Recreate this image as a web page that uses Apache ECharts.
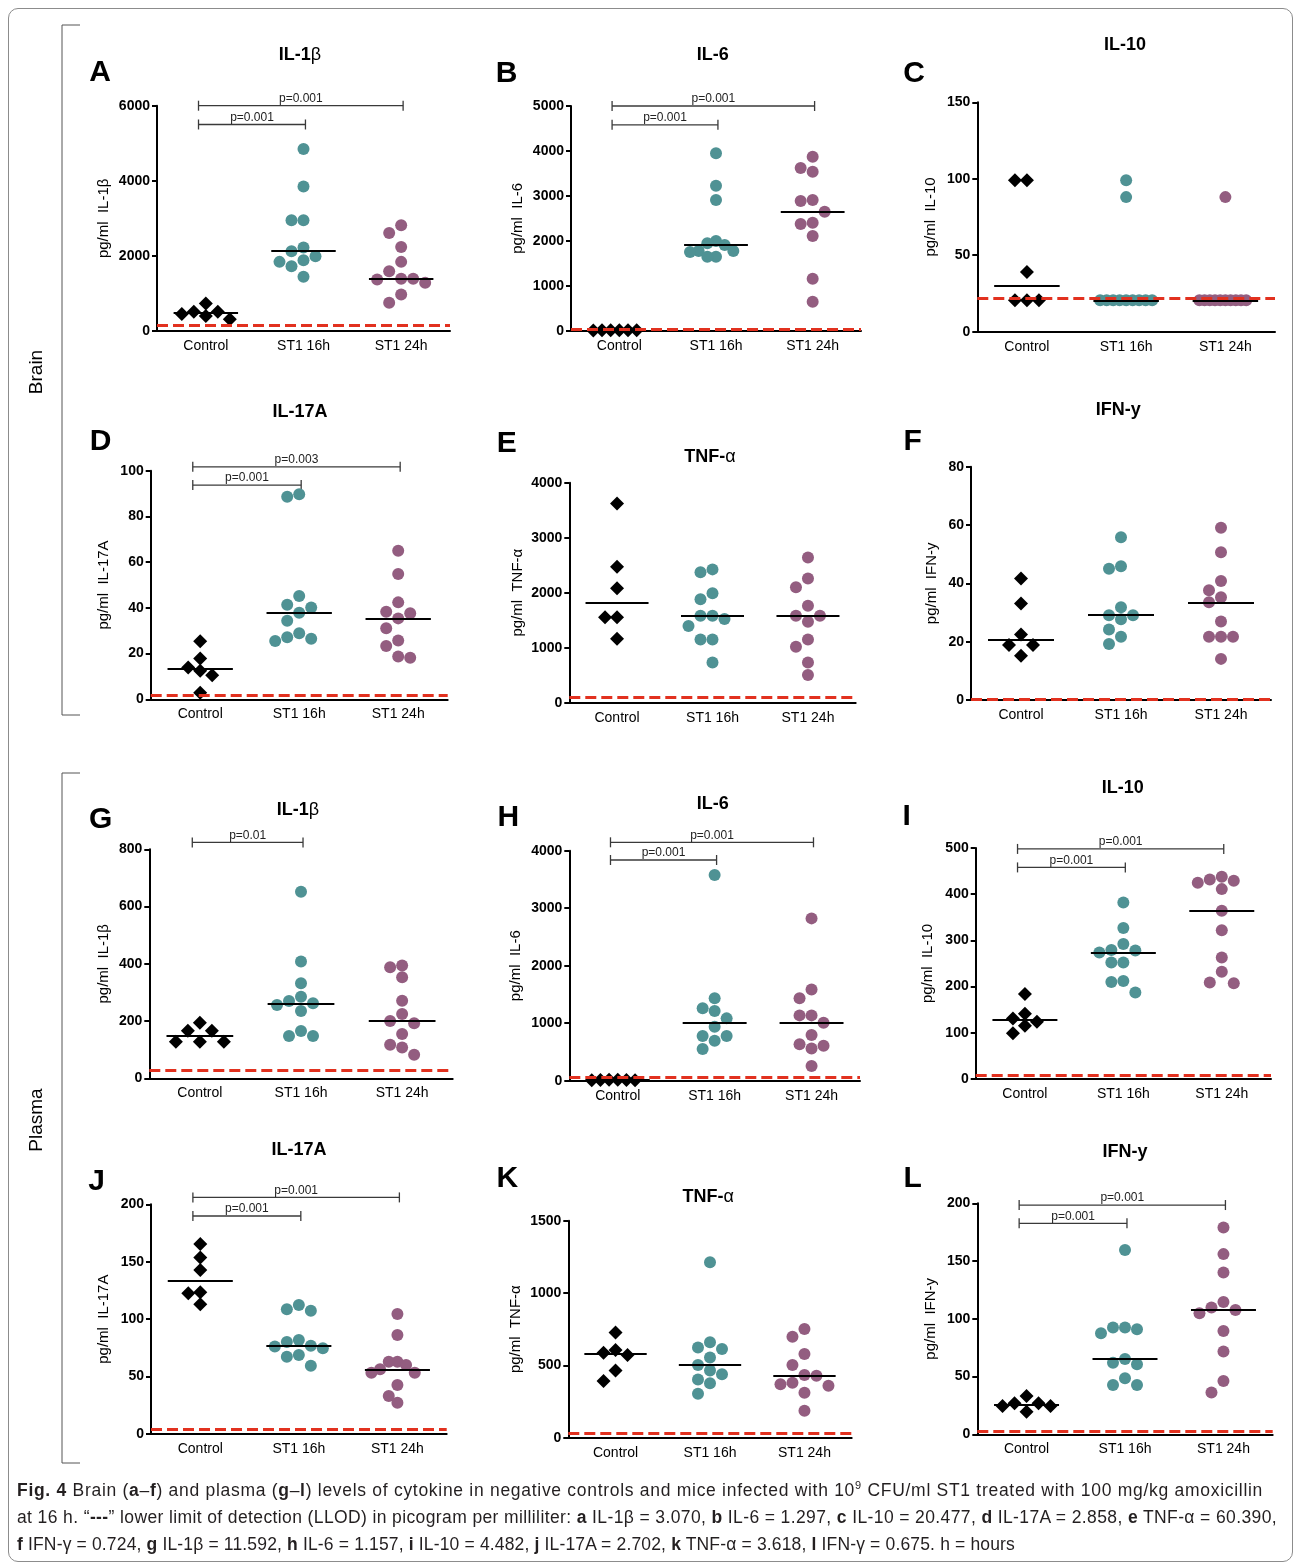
<!DOCTYPE html>
<html>
<head>
<meta charset="utf-8">
<script src="https://cdn.jsdelivr.net/npm/echarts@6/dist/echarts.min.js"></script>
<style>
  body { margin: 0; background: #fff; }
  #wrap { position: relative; width: 1295px; height: 1565px; }
  #frame { position: absolute; left: 8px; top: 8px; width: 1285px; height: 1554px; border: 1px solid #8c8c8c; border-radius: 10px; box-sizing: border-box; }
  #chart { position: absolute; left: 0; top: 0; width: 1295px; height: 1565px; }
  #caption { position: absolute; left: 17px; top: 1477px; font-family: 'Liberation Sans', Arial, sans-serif; font-size: 17.5px; line-height: 27px; color: #231f20; white-space: nowrap; }
  #caption .ln { display: inline-block; }
  #caption sup { font-size: 11px; line-height: 0; }
</style>
</head>
<body>
<div id="wrap">
  <div id="frame"></div>
  <div id="chart"></div>
  <div id="caption"><span class="ln"><b>Fig. 4</b> Brain (<b>a</b>–<b>f</b>) and plasma (<b>g</b>–<b>l</b>) levels of cytokine in negative controls and mice infected with 10<sup>9</sup> CFU/ml ST1 treated with 100 mg/kg amoxicillin</span><br><span class="ln">at 16 h. “<b>---</b>” lower limit of detection (LLOD) in picogram per milliliter: <b>a</b> IL-1β = 3.070, <b>b</b> IL-6 = 1.297, <b>c</b> IL-10 = 20.477, <b>d</b> IL-17A = 2.858, <b>e</b> TNF-α = 60.390,</span><br><span class="ln"><b>f</b> IFN-γ = 0.724, <b>g</b> IL-1β = 11.592, <b>h</b> IL-6 = 1.157, <b>i</b> IL-10 = 4.482, <b>j</b> IL-17A = 2.702, <b>k</b> TNF-α = 3.618, <b>l</b> IFN-γ = 0.675. h = hours</span></div>
</div>
<script>
const groups = ['Control', 'ST1 16h', 'ST1 24h']
const letters = ['A', 'B', 'C', 'D', 'E', 'F', 'G', 'H', 'I', 'J', 'K', 'L']
const cytokines = ['IL-1β', 'IL-6', 'IL-10', 'IL-17A', 'TNF-α', 'IFN-y', 'IL-1β', 'IL-6', 'IL-10', 'IL-17A', 'TNF-α', 'IFN-y']
const yMax = [6000, 5000, 150, 100, 4000, 80, 800, 4000, 500, 200, 1500, 200]
const yStep = [2000, 1000, 50, 20, 1000, 20, 200, 1000, 100, 50, 500, 50]
// LLOD dashed lines, as drawn in the figure
const llod = [150, 25, 22, 1.8, 100, 0.4, 29, 55, 8.7, 4.1, 30, 2.3]

// brain
const valuesA = [
  [735, 513, 513, 451, 398, 310],
  [4850, 3850, 2947, 2947, 2221, 2124, 1991, 1885, 1841, 1726, 1443],
  [2814, 2611, 2239, 1841, 1593, 1389, 1389, 1372, 1283, 974, 752]
]
const valuesB = [
  [12, 10, 8, 6, 10, 12],
  [3946, 3227, 2908, 1995, 1944, 1906, 1773, 1773, 1751, 1647, 1647],
  [3872, 3620, 3538, 2908, 2886, 2648, 2403, 2374, 2107, 1157, 645]
]
const valuesC = [
  [99, 99, 39, 20.5, 20.5, 20.5],
  [99, 88, 20.5, 20.5, 20.5, 20.5, 20.5, 20.5, 20.5, 20.5, 20.5],
  [88, 20.5, 20.5, 20.5, 20.5, 20.5, 20.5, 20.5, 20.5, 20.5, 20.5]
]
const valuesD = [
  [25.4, 17.9, 13.9, 12.5, 10.5, 2.9],
  [89.7, 88.6, 45.2, 41.4, 40.2, 37.9, 34.4, 28.9, 27.1, 26.5, 25.5],
  [65, 54.8, 42.4, 38.3, 37.6, 35.4, 31.1, 25.7, 23.3, 18.7, 18.2]
]
const valuesE = [
  [3624, 2473, 2079, 1552, 1552, 1164],
  [2424, 2370, 1988, 1879, 1582, 1582, 1521, 1394, 1151, 1151, 733],
  [2642, 2260, 2097, 1764, 1582, 1582, 1473, 1151, 1018, 733, 503]
]
const valuesF = [
  [41.7, 33.1, 22.5, 18.9, 18.9, 15.2],
  [55.8, 45.9, 45.0, 31.8, 29.1, 29.1, 27.7, 24.2, 21.7, 19.2],
  [59.1, 50.7, 40.8, 37.6, 35.2, 33.5, 26.9, 21.7, 21.7, 21.7, 14.1]
]
// plasma
const valuesG = [
  [194, 166, 166, 128, 128, 128],
  [652, 408, 332, 285, 270, 262, 256, 235, 165, 148, 148],
  [394, 388, 353, 271, 225, 200, 192, 155, 117, 108, 82]
]
const valuesH = [
  [15, 12, 10, 8, 12, 15],
  [3577, 1432, 1258, 1212, 1084, 939, 777, 777, 696, 551],
  [2823, 1588, 1432, 1136, 1136, 1009, 794, 632, 609, 562, 255]
]
const valuesI = [
  [184, 141, 131, 124, 115, 99],
  [382, 327, 292, 279, 278, 274, 252, 252, 212, 210, 187],
  [438, 432, 429, 425, 411, 364, 322, 263, 232, 209, 207]
]
const valuesJ = [
  [165.5, 153.6, 142.8, 123.4, 122.5, 112.9],
  [112.3, 108.6, 107.4, 81.9, 80.1, 76.9, 76.1, 74.6, 68.8, 67.3, 59.5],
  [104.5, 86.2, 63, 63, 60.1, 56.3, 53.4, 53.4, 42.7, 33.1, 27.3]
]
const valuesK = [
  [728, 606, 588, 571, 465, 392],
  [1212, 659, 624, 613, 555, 502, 465, 438, 403, 376, 304],
  [751, 698, 578, 502, 433, 429, 380, 369, 359, 311, 187]
]
const valuesL = [
  [33.2, 26.8, 26.8, 24.5, 24.5, 19.6],
  [159.6, 92.4, 92.4, 90.9, 87.4, 65.2, 62, 60.6, 48.5, 42.7, 42.7],
  [179, 156, 140, 114.5, 109.7, 107.6, 104.8, 89.5, 71.6, 46.2, 36.1]
]
const allValues = [valuesA, valuesB, valuesC, valuesD, valuesE, valuesF, valuesG, valuesH, valuesI, valuesJ, valuesK, valuesL]

// significance brackets: panel, from group, to group, height (data units), text
const brackets = [
  [0, 0, 2, 6000, 'p=0.001'], [0, 0, 1, 5500, 'p=0.001'],
  [1, 0, 2, 5000, 'p=0.001'], [1, 0, 1, 4580, 'p=0.001'],
  [3, 0, 2, 101.7, 'p=0.003'], [3, 0, 1, 93.7, 'p=0.001'],
  [6, 0, 1, 824, 'p=0.01'],
  [7, 0, 2, 4146, 'p=0.001'], [7, 0, 1, 3838, 'p=0.001'],
  [8, 0, 2, 498, 'p=0.001'], [8, 0, 1, 458, 'p=0.001'],
  [9, 0, 2, 206, 'p=0.001'], [9, 0, 1, 189.8, 'p=0.001'],
  [11, 0, 2, 198.5, 'p=0.001'], [11, 0, 1, 182.7, 'p=0.001']
]

// layout: plot box [left, top, right, bottom], title / letter centres, y name gap
const boxes = [
  [157, 105.7, 450, 331], [571, 106, 861, 330.7], [977.3, 102.3, 1275, 331.7],
  [150.7, 470.7, 447.7, 699.3], [569.3, 482.7, 855.7, 702.7], [971, 466.7, 1271, 700],
  [149.3, 849.3, 452.7, 1078.3], [569.3, 850.7, 860, 1080.7], [975.7, 848, 1271, 1079],
  [151, 1204.3, 446.7, 1434], [568.3, 1220.7, 851.7, 1437.7], [977.3, 1203.3, 1272.7, 1434.3]
]
const titlePos = [[300, 55], [712.7, 55], [1125, 45], [300, 411.7], [710, 457.3], [1118.3, 410],
  [298, 810], [712.7, 804], [1122.7, 788.3], [299, 1150], [708.3, 1196.7], [1125, 1152.3]]
const letterPos = [[100, 73], [506.7, 73.3], [914, 73.3], [100.7, 441.7], [506.7, 443.3], [912.7, 441.7],
  [100.7, 819.3], [508.3, 817.3], [906.7, 816.7], [96.7, 1181.7], [507.3, 1178.3], [912.7, 1178.3]]
const nameGaps = [46, 46, 39, 39, 44, 32, 38, 46, 40, 40, 45, 39]
// caption line widths in the figure
const captionWidths = [1246, 1260, 998]

const FONT = '"Liberation Sans", Arial, Helvetica, sans-serif'
const colors = ['#000000', '#4f9294', '#935d80']

function median (arr) {
  let s = arr.slice().sort((a, b) => a - b)
  let m = Math.floor(s.length / 2)
  return s.length % 2 ? s[m] : (s[m - 1] + s[m]) / 2
}

// simple beeswarm so equal values sit side by side
function swarm (vals, pxPerUnit, d, maxHalf) {
  let order = vals.map((v, i) => i).sort((a, b) => vals[b] - vals[a])
  let placed = []
  let off = []
  order.forEach(i => {
    let y = vals[i] * pxPerUnit
    for (let k = 0; k < 60; k++) {
      let x = (k % 2 === 1 ? -1 : 1) * Math.ceil(k / 2) * d
      if (placed.every(p => (p[0] - x) * (p[0] - x) + (p[1] - y) * (p[1] - y) >= d * d * 0.95)) {
        placed.push([x, y])
        off[i] = x
        break
      }
    }
  })
  let m = Math.max(...off.map(Math.abs))
  if (m > maxHalf) off = off.map(x => x * maxHalf / m)
  return off
}

function splitName (name) {
  // greek letter drawn lighter, like the original
  let last = name.slice(-1)
  if (last === 'β' || last === 'α') return '{b|' + name.slice(0, -1) + '}{g|' + last + '}'
  return '{b|' + name + '}'
}

let grids = []
let xAxes = []
let yAxes = []
let series = []
let graphics = []

for (let p = 0; p < 12; p++) {
  let [l, t, r, b] = boxes[p]
  let w = r - l
  let h = b - t
  grids.push({ left: l, top: t, width: w, height: h })
  xAxes.push({
    gridIndex: p, type: 'category', data: groups, boundaryGap: true,
    axisLine: { onZero: false, lineStyle: { color: '#000', width: 2 } },
    axisTick: { alignWithLabel: true, length: 5, lineStyle: { color: '#000', width: 2 } },
    axisLabel: { color: '#000', fontSize: 14, fontFamily: FONT, margin: 8 },
    splitLine: { show: false }
  })
  xAxes.push({ gridIndex: p, type: 'value', min: -0.5, max: 2.5, show: false })
  yAxes.push({
    gridIndex: p, type: 'value', min: 0, max: yMax[p], interval: yStep[p],
    name: 'pg/ml  ' + cytokines[p], nameLocation: 'middle', nameGap: nameGaps[p],
    nameTextStyle: { color: '#000', fontSize: 15, fontFamily: FONT },
    axisLine: { show: true, onZero: false, lineStyle: { color: '#000', width: 2 } },
    axisTick: { show: true, length: 5, lineStyle: { color: '#000', width: 2 } },
    axisLabel: { color: '#000', fontSize: 14, fontWeight: 'bold', fontFamily: FONT, margin: 7, formatter: v => String(v) },
    splitLine: { show: false }
  })

  let spacing = w / 3
  allValues[p].forEach((arr, g) => {
    let off = swarm(arr, h / yMax[p], 12, 26)
    let med = median(arr)
    let lines = [[{ coord: [g - 0.33, med] }, { coord: [g + 0.33, med] }]]
    if (g === 0) {
      lines.push({ yAxis: llod[p], lineStyle: { color: '#e2311f', width: 3, type: [11, 5] } })
    }
    series.push({
      type: 'scatter',
      xAxisIndex: 2 * p + 1,
      yAxisIndex: p,
      symbol: g === 0 ? 'diamond' : 'circle',
      symbolSize: g === 0 ? 14 : 12,
      itemStyle: { color: colors[g], opacity: 1 },
      data: arr.map((v, i) => [g + off[i] / spacing, v]),
      markLine: {
        silent: true,
        symbol: 'none',
        animation: false,
        label: { show: false },
        lineStyle: { color: '#000', width: 2, type: 'solid' },
        data: lines
      }
    })
  })

  let list = brackets.filter(bk => bk[0] === p)
  if (list.length) {
    series.push({
      type: 'custom',
      xAxisIndex: 2 * p + 1,
      yAxisIndex: p,
      clip: false,
      silent: true,
      encode: { x: [0, 1], y: 2 },
      data: list.map(bk => [bk[1], bk[2], bk[3]]),
      renderItem: function (params, api) {
        let a = api.coord([api.value(0) - 0.075, api.value(2)])
        let c = api.coord([api.value(1) + 0.02, api.value(2)])
        let st = { stroke: '#3a3a3a', lineWidth: 1.3 }
        return {
          type: 'group',
          children: [
            { type: 'line', shape: { x1: a[0], y1: a[1], x2: c[0], y2: c[1] }, style: st },
            { type: 'line', shape: { x1: a[0], y1: a[1] - 5, x2: a[0], y2: a[1] + 5 }, style: st },
            { type: 'line', shape: { x1: c[0], y1: c[1] - 5, x2: c[0], y2: c[1] + 5 }, style: st },
            {
              type: 'text',
              style: {
                x: (a[0] + c[0]) / 2, y: a[1] - 1,
                text: list[params.dataIndex][4],
                align: 'center', verticalAlign: 'bottom',
                fontSize: 12, fontFamily: FONT, fill: '#222'
              }
            }
          ]
        }
      }
    })
  }

  graphics.push({
    type: 'text', x: titlePos[p][0], y: titlePos[p][1],
    style: {
      text: splitName(cytokines[p]), align: 'center', verticalAlign: 'middle',
      rich: {
        b: { fontSize: 18, fontWeight: 'bold', fontFamily: FONT, fill: '#000' },
        g: { fontSize: 18, fontFamily: FONT, fill: '#000' }
      }
    }
  })
  graphics.push({
    type: 'text', x: letterPos[p][0], y: letterPos[p][1],
    style: { text: letters[p], align: 'center', verticalAlign: 'middle', fontSize: 30, fontWeight: 'bold', fontFamily: FONT, fill: '#000' }
  })
}

// Brain / Plasma brackets
graphics.push(
  { type: 'polyline', shape: { points: [[80, 25], [62, 25], [62, 715], [80, 715]] }, style: { stroke: '#555', lineWidth: 1, fill: null } },
  { type: 'polyline', shape: { points: [[80, 773], [62, 773], [62, 1463], [80, 1463]] }, style: { stroke: '#555', lineWidth: 1, fill: null } },
  { type: 'text', x: 37, y: 372, rotation: Math.PI / 2, style: { text: 'Brain', fontSize: 19, fontFamily: FONT, fill: '#000', align: 'center', verticalAlign: 'middle' } },
  { type: 'text', x: 37, y: 1120, rotation: Math.PI / 2, style: { text: 'Plasma', fontSize: 19, fontFamily: FONT, fill: '#000', align: 'center', verticalAlign: 'middle' } }
)

let myChart = echarts.init(document.getElementById('chart'))
let option = {
  animation: false,
  grid: grids,
  xAxis: xAxes,
  yAxis: yAxes,
  series: series,
  graphic: graphics
}
myChart.setOption(option, true)

// stretch each caption line to the width it has in the figure
document.querySelectorAll('#caption .ln').forEach((el, i) => {
  let w = el.getBoundingClientRect().width
  let n = el.textContent.length
  el.style.letterSpacing = ((captionWidths[i] - w) / n) + 'px'
})
</script>
</body>
</html>
